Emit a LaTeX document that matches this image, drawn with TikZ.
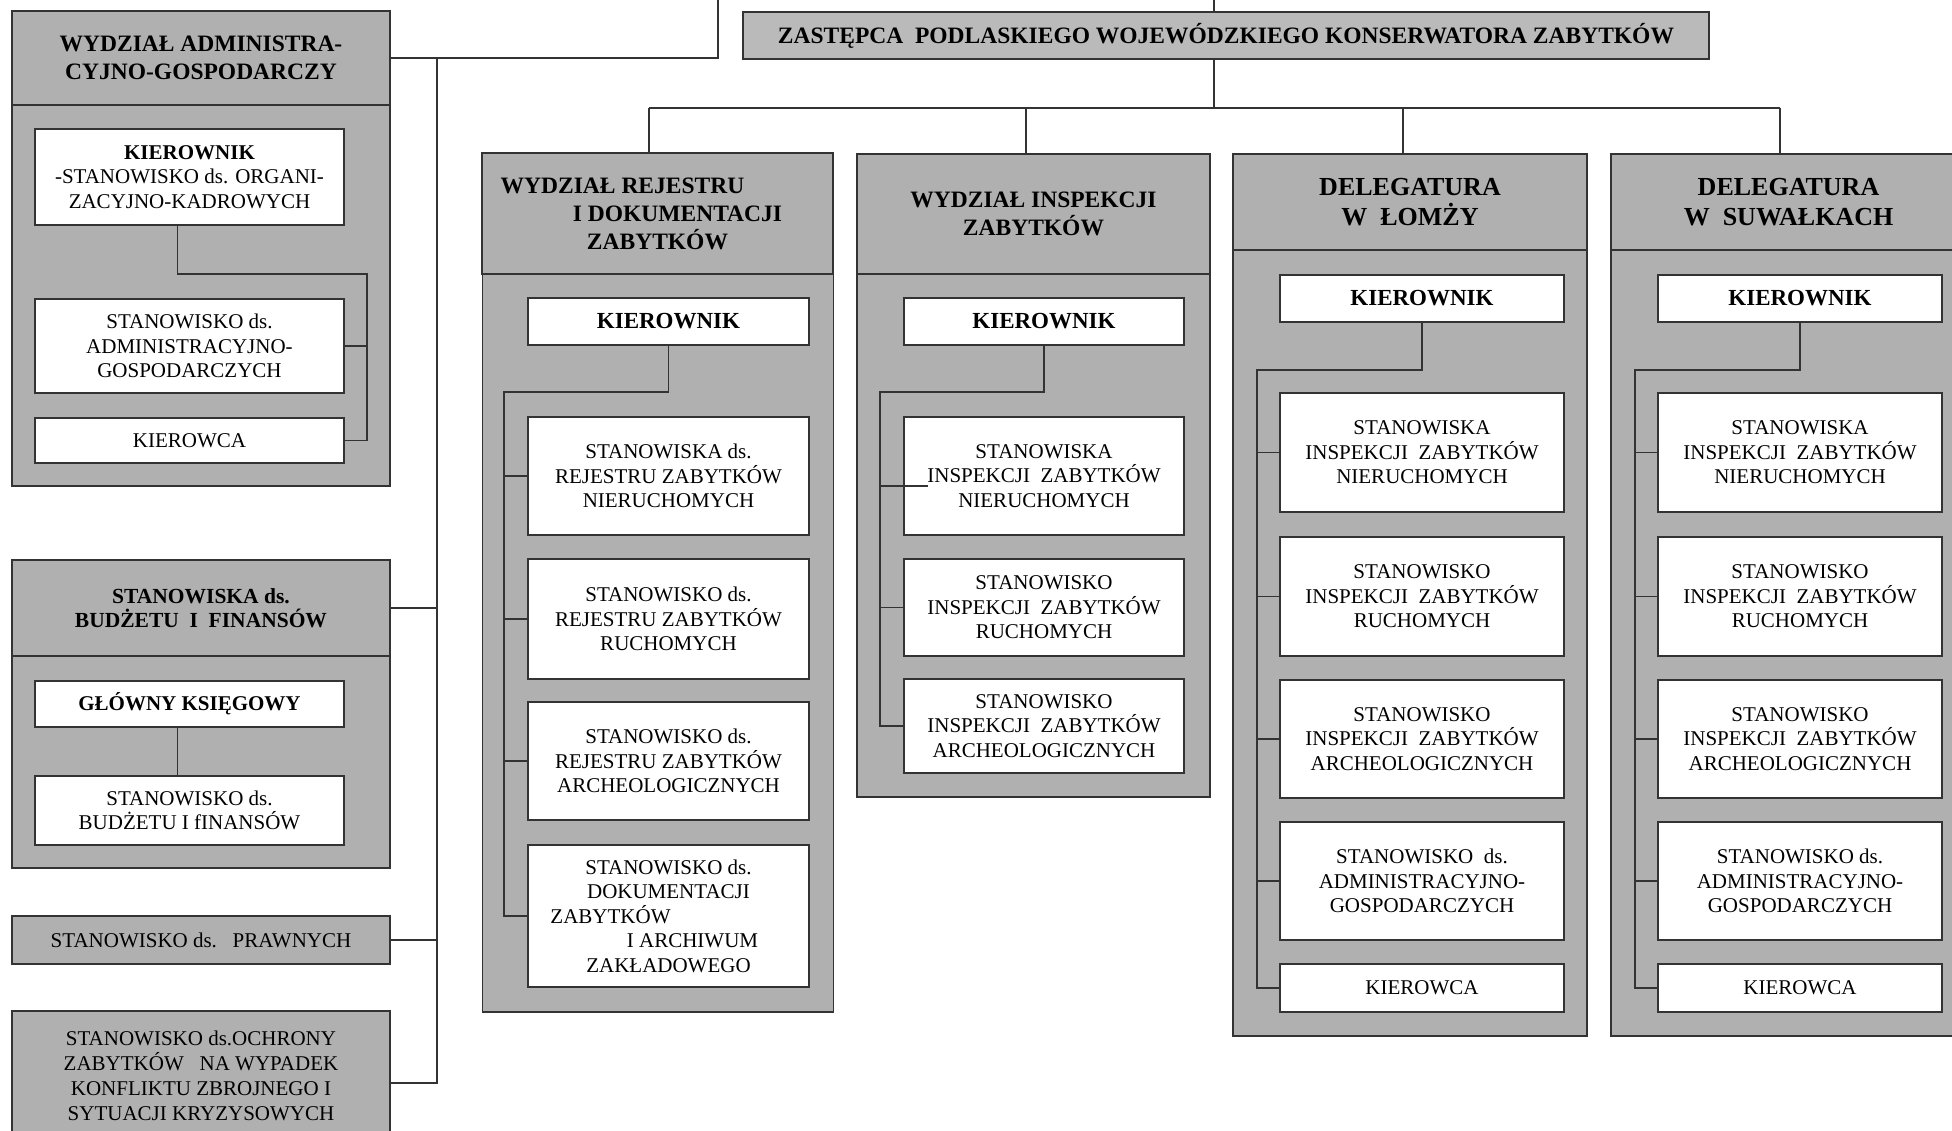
\documentclass[tikz,border=0pt]{standalone}
\usepackage{fontspec}
\setmainfont{Liberation Serif}

\begin{document}
\begin{tikzpicture}[x=1pt,y=-1pt]
\tikzstyle{panel}=[draw=black!80,line width=1.8pt,fill=black!31,inner sep=0pt]
\tikzstyle{unit}=[panel,align=center,font=\bfseries\fontsize{23.5}{28}\selectfont]
\tikzstyle{post}=[draw=black!80,line width=1.8pt,fill=white,inner sep=0pt,align=center,font=\fontsize{21}{24.5}\selectfont]
\tikzstyle{boss}=[post,font=\bfseries\fontsize{23}{27}\selectfont]
\tikzstyle{link}=[draw=black!80,line width=1.8pt]
\useasboundingbox (0,0) rectangle (1952,1130);
\clip (0,0) rectangle (1952,1130);

\node[panel,minimum width=378pt,minimum height=381pt] (admb) at (201,295.5) {};
\node[unit,minimum width=378pt,minimum height=94pt] (adm) at (201,58) {WYDZIAŁ ADMINISTRA-\\CYJNO-GOSPODARCZY};
\node[post,minimum width=309pt,minimum height=96pt] (ka) at (189.5,177) {\textbf{KIEROWNIK}\\-STANOWISKO ds. ORGANI-\\ZACYJNO-KADROWYCH};
\node[post,minimum width=309pt,minimum height=94pt] (aa) at (189.5,346) {STANOWISKO ds.\\ADMINISTRACYJNO-\\GOSPODARCZYCH};
\node[post,minimum width=309pt,minimum height=45pt] (ak) at (189.5,440.5) {KIEROWCA};

\node[panel,minimum width=378pt,minimum height=212pt] (budb) at (201,762) {};
\node[unit,font=\bfseries\fontsize{21.5}{24.5}\selectfont,minimum width=378pt,minimum height=96pt] (bud) at (201,608) {STANOWISKA ds.\\BUDŻETU\ \ I\ \ FINANSÓW};
\node[post,font=\bfseries\fontsize{21}{24.5}\selectfont,minimum width=309pt,minimum height=46pt] (gk) at (189.5,704) {GŁÓWNY KSIĘGOWY};
\node[post,minimum width=309pt,minimum height=69pt] (gb) at (189.5,810.5) {STANOWISKO ds.\\BUDŻETU I fINANSÓW};

\node[unit,font=\fontsize{21}{24.5}\selectfont,minimum width=378pt,minimum height=48pt] (praw) at (201,940) {STANOWISKO ds.\ \ \ PRAWNYCH};
\node[unit,font=\fontsize{21}{25}\selectfont,minimum width=378pt,minimum height=130pt] (ochr) at (201,1076) {STANOWISKO ds.OCHRONY\\ZABYTKÓW\ \ \ NA WYPADEK\\KONFLIKTU ZBROJNEGO I\\SYTUACJI KRYZYSOWYCH};

\node[unit,fill=black!27,minimum width=966pt,minimum height=47pt] (zast) at (1226,35.5) {ZASTĘPCA\ \ PODLASKIEGO WOJEWÓDZKIEGO KONSERWATORA ZABYTKÓW};

\node[panel,minimum width=351pt,minimum height=738pt] (rejb) at (658,643) {};
\node[unit,minimum width=351pt,minimum height=121pt] (rej) at (657.5,213.5) {WYDZIAŁ REJESTRU\rule{70pt}{0pt}\\\rule{40pt}{0pt}I DOKUMENTACJI\\ZABYTKÓW};
\node[boss,minimum width=281pt,minimum height=47pt] (k1) at (668.5,321.5) {KIEROWNIK};
\node[post,minimum width=281pt,minimum height=118pt] (r1) at (668.5,476) {STANOWISKA ds.\\REJESTRU ZABYTKÓW\\NIERUCHOMYCH};
\node[post,minimum width=281pt,minimum height=120pt] (r2) at (668.5,619) {STANOWISKO ds.\\REJESTRU ZABYTKÓW\\RUCHOMYCH};
\node[post,minimum width=281pt,minimum height=118pt] (r3) at (668.5,761) {STANOWISKO ds.\\REJESTRU ZABYTKÓW\\ARCHEOLOGICZNYCH};
\node[post,minimum width=281pt,minimum height=142pt] (r4) at (668.5,916) {STANOWISKO ds.\\DOKUMENTACJI\\ZABYTKÓW\rule{116pt}{0pt}\\\rule{48pt}{0pt}I ARCHIWUM\\ZAKŁADOWEGO};

\node[panel,minimum width=353pt,minimum height=523pt] (inspb) at (1033.5,535.5) {};
\node[unit,minimum width=353pt,minimum height=120pt] (insp) at (1033.5,214) {WYDZIAŁ INSPEKCJI\\ZABYTKÓW};
\node[boss,minimum width=280pt,minimum height=47pt] (k2) at (1044,321.5) {KIEROWNIK};
\node[post,minimum width=280pt,minimum height=118pt] (i1) at (1044,476) {STANOWISKA\\INSPEKCJI\ \ ZABYTKÓW\\NIERUCHOMYCH};
\node[post,minimum width=280pt,minimum height=97pt] (i2) at (1044,607.5) {STANOWISKO\\INSPEKCJI\ \ ZABYTKÓW\\RUCHOMYCH};
\node[post,minimum width=280pt,minimum height=94pt] (i3) at (1044,726) {STANOWISKO\\INSPEKCJI\ \ ZABYTKÓW\\ARCHEOLOGICZNYCH};

\node[panel,minimum width=354pt,minimum height=786pt] (lomb) at (1410,643) {};
\node[unit,font=\bfseries\fontsize{26}{30}\selectfont,minimum width=354pt,minimum height=96pt] (lom) at (1410,202) {DELEGATURA\\W\ \ ŁOMŻY};
\node[boss,minimum width=284pt,minimum height=47pt] (k3) at (1422,298.5) {KIEROWNIK};
\node[post,minimum width=284pt,minimum height=119pt] (l1) at (1422,452.5) {STANOWISKA\\INSPEKCJI\ \ ZABYTKÓW\\NIERUCHOMYCH};
\node[post,minimum width=284pt,minimum height=119pt] (l2) at (1422,596.5) {STANOWISKO\\INSPEKCJI\ \ ZABYTKÓW\\RUCHOMYCH};
\node[post,minimum width=284pt,minimum height=118pt] (l3) at (1422,739) {STANOWISKO\\INSPEKCJI\ \ ZABYTKÓW\\ARCHEOLOGICZNYCH};
\node[post,minimum width=284pt,minimum height=118pt] (l4) at (1422,881) {STANOWISKO\ \ ds.\\ADMINISTRACYJNO-\\GOSPODARCZYCH};
\node[post,minimum width=284pt,minimum height=48pt] (l5) at (1422,988) {KIEROWCA};

\node[panel,minimum width=355pt,minimum height=786pt] (suwb) at (1788.5,643) {};
\node[unit,font=\bfseries\fontsize{26}{30}\selectfont,minimum width=355pt,minimum height=96pt] (suw) at (1788.5,202) {DELEGATURA\\W\ \ SUWAŁKACH};
\node[boss,minimum width=284pt,minimum height=47pt] (k4) at (1800,298.5) {KIEROWNIK};
\node[post,minimum width=284pt,minimum height=119pt] (u1) at (1800,452.5) {STANOWISKA\\INSPEKCJI\ \ ZABYTKÓW\\NIERUCHOMYCH};
\node[post,minimum width=284pt,minimum height=119pt] (u2) at (1800,596.5) {STANOWISKO\\INSPEKCJI\ \ ZABYTKÓW\\RUCHOMYCH};
\node[post,minimum width=284pt,minimum height=118pt] (u3) at (1800,739) {STANOWISKO\\INSPEKCJI\ \ ZABYTKÓW\\ARCHEOLOGICZNYCH};
\node[post,minimum width=284pt,minimum height=118pt] (u4) at (1800,881) {STANOWISKO ds.\\ADMINISTRACYJNO-\\GOSPODARCZYCH};
\node[post,minimum width=284pt,minimum height=48pt] (u5) at (1800,988) {KIEROWCA};

\coordinate (top1) at (718,0);
\coordinate (top2) at (1214,0);
\coordinate (ls) at (437,57);
\coordinate (as) at (367,274);
\coordinate (bus) at (1214,108);
\coordinate (d1) at (649,108);
\coordinate (d2) at (1026,108);
\coordinate (d3) at (1403,108);
\coordinate (d4) at (1780,108);
\coordinate (s1) at (504,392);
\coordinate (s2) at (880,392);
\coordinate (t2) at (928,486);
\coordinate (s3) at (1257,370);
\coordinate (s4) at (1635,370);

\draw[link] (top1) |- (adm.east);
\draw[link] (ls) |- ([yshift=-7pt]ochr.east);
\draw[link] (bud.east) -- (bud.east -| ls);
\draw[link] (praw.east) -- (praw.east -| ls);
\draw[link] ([xshift=-12pt]ka.south) |- (as) |- (ak.east);
\draw[link] (aa.east) -- (aa.east -| as);
\draw[link] ([xshift=-12pt]gk.south) -- ([xshift=-12pt]gb.north);

\draw[link] (top2) -- (top2 |- zast.north);
\draw[link] (zast.south -| bus) -- (bus);
\draw[link] (d1) -- (d4);
\foreach \d/\h in {d1/rej,d2/insp,d3/lom,d4/suw}
  \draw[link] (\d) -- (\d |- \h.north);

\draw[link] (k1.south) |- (s1) |- (r4.west);
\foreach \b in {r1,r2,r3}
  \draw[link] (\b.west) -- (\b.west -| s1);
\draw[link] (k2.south) |- (s2) |- (i3.west);
\draw[link] (s2 |- t2) -- (t2);
\draw[link] (i2.west) -- (i2.west -| s2);
\draw[link] (k3.south) |- (s3) |- (l5.west);
\foreach \b in {l1,l2,l3,l4}
  \draw[link] (\b.west) -- (\b.west -| s3);
\draw[link] (k4.south) |- (s4) |- (u5.west);
\foreach \b in {u1,u2,u3,u4}
  \draw[link] (\b.west) -- (\b.west -| s4);
\end{tikzpicture}
\end{document}
